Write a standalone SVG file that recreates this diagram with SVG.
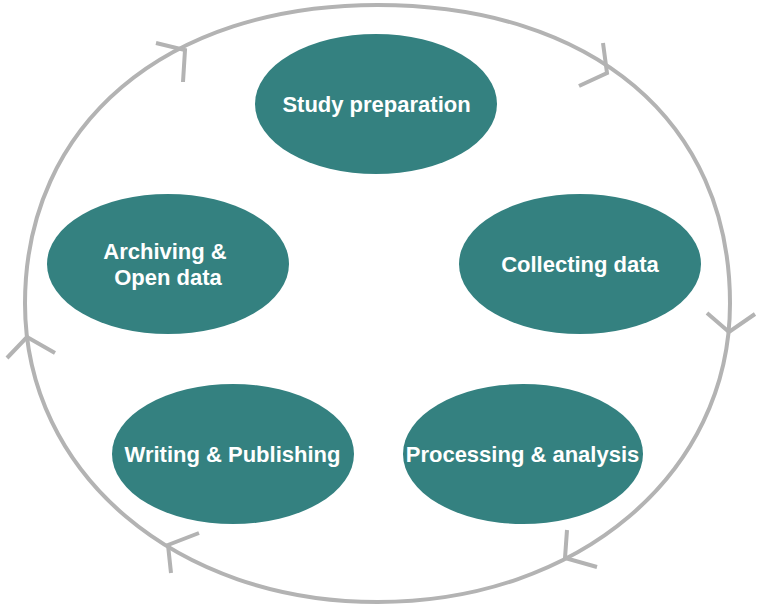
<svg xmlns="http://www.w3.org/2000/svg" width="760" height="608" viewBox="0 0 760 608">
<style>
.node ellipse{fill:#348180;stroke:none}
.node text{fill:#ffffff;font-family:"Liberation Sans",Arial,sans-serif;font-weight:bold;font-size:22px;text-anchor:middle}
.conn{fill:none;stroke:#b3b3b3;stroke-width:4}
</style>
<rect width="760" height="608" fill="#ffffff"/>
<g id="connectors">
<path class="conn" d="M25,303.5 C25,124.4 166,5 377.5,5 C592.5,5 730,121.4 730,303.5 C730,473.6 578.4,602 377.5,602 C176.6,602 25,473.6 25,303.5 Z"/>
<polyline class="conn" points="156,43 185,50 183,82"/>
<polyline class="conn" points="603,43 607,73 579,86"/>
<polyline class="conn" points="707,313 729,332 755,314"/>
<polyline class="conn" points="567,530 565,558 597,567"/>
<polyline class="conn" points="199,533 168,545 171,573"/>
<polyline class="conn" points="7,358 27,337 55,353"/>
</g>
<g id="study" class="node">
<ellipse cx="376" cy="104" rx="121" ry="70"/>
<text x="376.5" y="112">Study preparation</text>
</g>
<g id="collecting" class="node">
<ellipse cx="580" cy="264" rx="121" ry="70"/>
<text x="580" y="272">Collecting data</text>
</g>
<g id="processing" class="node">
<ellipse cx="523" cy="454" rx="120" ry="70"/>
<text x="522.5" y="462">Processing &amp; analysis</text>
</g>
<g id="writing" class="node">
<ellipse cx="233" cy="454" rx="121" ry="70"/>
<text x="232.5" y="462">Writing &amp; Publishing</text>
</g>
<g id="archiving" class="node">
<ellipse cx="168" cy="264" rx="121" ry="70"/>
<text x="165" y="259">Archiving &amp;</text>
<text x="168" y="285">Open data</text>
</g>
</svg>
